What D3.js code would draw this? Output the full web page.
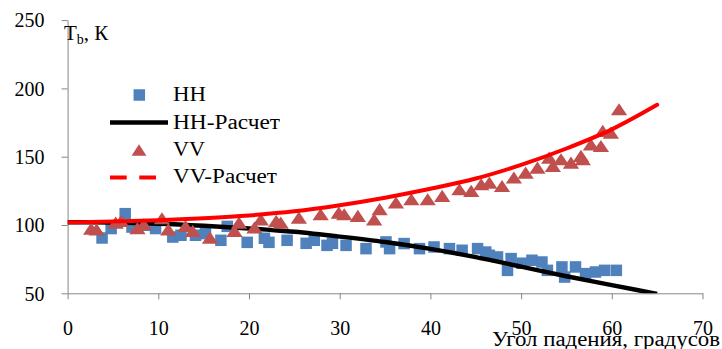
<!DOCTYPE html>
<html><head><meta charset="utf-8">
<script src="https://cdn.jsdelivr.net/npm/d3@7"></script>
<style>body{margin:0;background:#fff}svg{display:block}text{font-family:"Liberation Serif","Times New Roman",serif;fill:#000}</style>
</head><body><svg id="c" width="722" height="349"></svg>
<script>
const xTicks = [0,10,20,30,40,50,60,70];
const yTicks = [50,100,150,200,250];
const hhAngles = [3.8,4.8,6.35,7.1,8.6,9.7,11.6,12.5,14.1,15.2,16.9,17.6,19.8,21.7,22.2,24.2,26.3,27.2,28.6,29.2,30.7,32.9,35.1,35.5,37.1,38.8,40.4,42.1,43.5,45.2,46.1,46.5,47.4,48.5,48.9,50.1,51.2,52.3,52.9,54.5,54.8,56.0,57.1,58.2,59.2,60.5];
const hhValues = [90.5,97.4,108.3,98.5,99.8,97.4,91.2,92.5,92.5,93.7,88.8,99,87.3,90.3,87.3,88.8,86.6,88.8,85.1,86.6,85.1,82.7,87.6,82.7,86.4,82.7,83.9,82.7,81.5,82.7,80.2,77.8,76.6,66.8,75.4,72,74.2,72.9,66.8,69.3,61.9,69.3,64.4,65.6,66.8,66.8];
const vvAngles = [2.6,3.2,5.3,5.9,7.7,8.4,10.4,11.1,13.0,13.8,15.7,18.4,18.9,20.6,21.3,23.0,23.5,25.5,27.9,29.9,30.5,32.0,33.8,34.4,36.2,37.9,39.7,41.3,43.2,44.5,45.6,46.5,47.9,49.2,50.5,51.8,53.1,53.5,54.4,55.5,56.6,56.8,57.7,58.8,59.0,59.9,60.8];
const vvValues = [96.6,96.1,101,102.2,96.9,99.8,104.2,96.1,98.5,94.9,90,94.9,101,97.4,103.4,102.2,101,104.7,107.1,108.3,107.1,105.9,103.4,110.8,115.7,118.1,118.1,120.5,125.4,124.2,129.1,130.3,127.8,134,137.6,141.3,148.6,142.5,147.4,144.9,149.8,147.4,158.3,157.1,168.1,166.9,184];
const calcAngles = [0,5,10,15,20,25,30,35,40,45,50,55,60,65];
const hhCalcValues = [102,101.8,101,99.5,97.5,95,91.5,87.5,82.5,76.5,69.5,62.5,56,49.5];
const vvCalcValues = [102,102.5,103.5,105,107,110,114.5,120,126.5,134,144,156,170,188];
const legendLabels = ["HH","HH-Расчет","VV","VV-Расчет"];

const svg = d3.select("#c");
const x = d3.scaleLinear().domain([0,70]).range([67.6,702.5]);
const y = d3.scaleLinear().domain([50,250]).range([293.3,20.1]);
const axisColor = "#868686";

const plot = svg.append("g");
const clip = svg.append("clipPath").attr("id","pc").append("rect")
  .attr("x",x(0)).attr("y",y(250)-10).attr("width",x(70)-x(0)+10).attr("height",y(50)-y(250)+10);

// axes
const gx = svg.append("g").attr("transform",`translate(0,${y(50)})`)
  .call(d3.axisBottom(x).tickValues(xTicks).tickSize(6).tickSizeOuter(0).tickPadding(22));
const gy = svg.append("g").attr("transform",`translate(${x(0)},0)`)
  .call(d3.axisLeft(y).tickValues(yTicks).tickSize(6).tickSizeOuter(0).tickPadding(17));
[gx,gy].forEach(g=>{
  g.select(".domain").attr("stroke",axisColor);
  g.selectAll(".tick line").attr("stroke",axisColor);
  g.selectAll(".tick text").attr("font-size",20).attr("font-family","Liberation Serif").attr("fill","#000");
});
gy.selectAll(".tick text").attr("dy","0.34em");

const g = svg.append("g").attr("clip-path","url(#pc)");
const sq = 11.5;
g.selectAll(".hh").data(hhAngles).enter().append("rect")
  .attr("x",(d)=>x(d)-sq/2).attr("y",(d,i)=>y(hhValues[i])-sq/2)
  .attr("width",sq).attr("height",sq).attr("fill","#4F81BD");
const line = d3.line().x(d=>x(d[0])).y(d=>y(d[1])).curve(d3.curveMonotoneX);
g.append("path").datum(calcAngles.map((a,i)=>[a,hhCalcValues[i]]))
  .attr("d",line).attr("fill","none").attr("stroke","#000").attr("stroke-width",4.5);
const tri = d3.symbol().type(d3.symbolTriangle).size(95);
g.selectAll(".vv").data(vvAngles).enter().append("path")
  .attr("d",tri).attr("transform",(d,i)=>`translate(${x(d)},${y(vvValues[i])+1}) scale(1.1,0.95)`)
  .attr("fill","#C0504D");
g.append("path").datum(calcAngles.map((a,i)=>[a,vvCalcValues[i]]))
  .attr("d",line).attr("fill","none").attr("stroke","#FF0000").attr("stroke-width",4).attr("stroke-linecap","round");

// legend
const lg = svg.append("g");
lg.append("rect").attr("x",139.3-sq/2).attr("y",95-sq/2).attr("width",sq).attr("height",sq).attr("fill","#4F81BD");
lg.append("line").attr("x1",110).attr("x2",168).attr("y1",122.5).attr("y2",122.5).attr("stroke","#000").attr("stroke-width",4.5);
lg.append("path").attr("d",tri).attr("transform","translate(139,152) scale(1.0,0.9)").attr("fill","#C0504D");
lg.append("line").attr("x1",110).attr("x2",168).attr("y1",177.5).attr("y2",177.5).attr("stroke","#FF0000").attr("stroke-width",4).attr("stroke-dasharray","16.7,12.6");
const lBase = [101,129,156,183];
const lLen = [33,107,32,104];
legendLabels.forEach((t,i)=>{
  lg.append("text").attr("x",173).attr("y",lBase[i]).attr("font-size",20)
    .attr("textLength",lLen[i]).attr("lengthAdjust","spacingAndGlyphs").text(t);
});

// axis titles
const yt = svg.append("text").attr("x",64).attr("y",40).attr("font-size",21);
yt.append("tspan").text("T");
yt.append("tspan").attr("font-size",14).attr("dy",4).text("b");
yt.append("tspan").attr("dy",-4).text(", К");
svg.append("text").attr("x",720).attr("y",346).attr("text-anchor","end").attr("font-size",20)
  .attr("textLength",228).attr("lengthAdjust","spacingAndGlyphs").text("Угол падения, градусов");
</script></body></html>
